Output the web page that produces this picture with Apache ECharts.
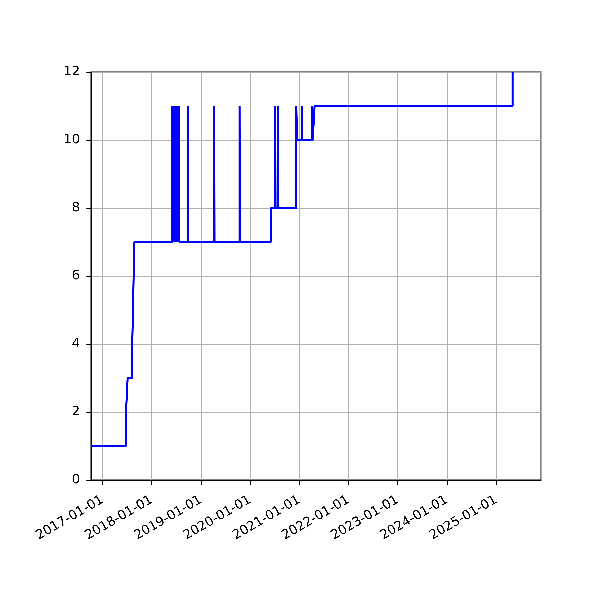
<!DOCTYPE html>
<html><head><meta charset="utf-8">
<script src="https://cdn.jsdelivr.net/npm/echarts@6/dist/echarts.min.js"></script>
<style>html,body{margin:0;padding:0;background:#fff}#c{width:600px;height:600px}</style>
</head><body><div id="c"></div>
<script>
const xStart = '2016-10-07';
const xEnd = '2025-11-30';
const changeDates = [
  '2016-10-07', '2017-06-24', '2017-07-06', '2017-08-09', '2017-08-15', '2017-08-24',
  '2018-06-02', '2018-06-04', '2018-06-08', '2018-06-10', '2018-06-14', '2018-06-16',
  '2018-06-20', '2018-06-22', '2018-06-26', '2018-06-28', '2018-07-02', '2018-07-04',
  '2018-07-08', '2018-07-10', '2018-07-14', '2018-07-16', '2018-07-20', '2018-07-24',
  '2018-09-27', '2018-09-29', '2019-04-10', '2019-04-12', '2019-10-15', '2019-10-17',
  '2020-06-04', '2020-07-06', '2020-07-08', '2020-07-25', '2020-07-27',
  '2020-12-09', '2020-12-16', '2021-01-20', '2021-01-23', '2021-04-07', '2021-04-10',
  '2021-04-24', '2025-05-03'
];
const changeValues = [
  1, 2, 3, 4, 5, 7,
  11, 7, 11, 7, 11, 7,
  11, 7, 11, 7, 11, 7,
  11, 7, 11, 7, 11, 7,
  11, 7, 11, 7, 11, 7,
  8, 11, 8, 11, 8,
  11, 10, 11, 10, 11, 10,
  11, 12
];

const ts = s => Date.parse(s);
const seriesData = changeDates.map((d, i) => [ts(d), changeValues[i]]);
const pad = n => (n < 10 ? '0' : '') + n;
const fmt = v => { const d = new Date(v); return d.getUTCFullYear() + '-' + pad(d.getUTCMonth() + 1) + '-' + pad(d.getUTCDate()); };
const FONT = 'DejaVu Sans';
const YEAR = 365.25 * 86400000;

const chart = echarts.init(document.getElementById('c'), null, {renderer: 'canvas', devicePixelRatio: 8});
chart.setOption({
  useUTC: true,
  animation: false,
  backgroundColor: '#fff',
  grid: {left: 91, right: 59, top: 72, bottom: 120, show: true, borderColor: '#000', borderWidth: 1, backgroundColor: 'transparent', outerBoundsMode: 'none', containLabel: false},
  xAxis: {
    type: 'time',
    min: ts(xStart), max: ts(xEnd),
    minInterval: YEAR, maxInterval: YEAR,
    axisLine: {show: true, lineStyle: {color: '#000', width: 1}},
    axisTick: {show: true, length: 5, lineStyle: {color: '#000', width: 1}},
    axisLabel: {show: true, formatter: fmt, rotate: 30, color: '#000', fontSize: 13, fontFamily: FONT, margin: 19, hideOverlap: false, showMinLabel: false, showMaxLabel: false},
    splitLine: {show: true, lineStyle: {color: '#b0b0b0', width: 1}}
  },
  yAxis: {
    type: 'value', min: 0, max: 12, interval: 2,
    axisLine: {show: true, lineStyle: {color: '#000', width: 1}},
    axisTick: {show: true, length: 5, lineStyle: {color: '#000', width: 1}},
    axisLabel: {color: '#000', fontSize: 13, fontFamily: FONT, margin: 11},
    splitLine: {show: true, lineStyle: {color: '#b0b0b0', width: 1}}
  },
  series: [{
    type: 'line', step: 'end', data: seriesData, showSymbol: false, symbol: 'none',
    lineStyle: {color: '#0000ff', width: 2}, itemStyle: {color: '#0000ff'}
  }]
});
</script></body></html>
